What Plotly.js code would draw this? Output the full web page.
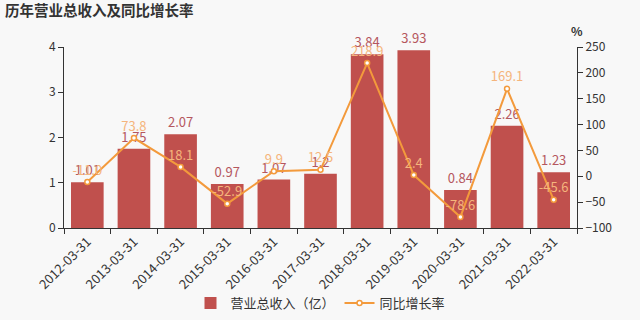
<!DOCTYPE html>
<html>
<head>
<meta charset="utf-8">
<script src="https://cdn.plot.ly/plotly-3.0.1.min.js"></script>
<style>html,body{margin:0;padding:0;background:#f8f8f8;}#chart{width:640px;height:320px;}</style>
</head>
<body>
<div id="chart"></div>
<script>
const categories = ["2012-03-31","2013-03-31","2014-03-31","2015-03-31","2016-03-31","2017-03-31","2018-03-31","2019-03-31","2020-03-31","2021-03-31","2022-03-31"];
const revenue = [1.01, 1.75, 2.07, 0.97, 1.07, 1.2, 3.84, 3.93, 0.84, 2.26, 1.23];
const revenueLabels = ["1.01","1.75","2.07","0.97","1.07","1.2","3.84","3.93","0.84","2.26","1.23"];
const growth = [-11.0, 73.8, 18.1, -52.9, 9.9, 12.5, 218.9, 2.4, -78.6, 169.1, -45.6];
const leftTicks = [0, 1, 2, 3, 4];
const rightTicks = [-100, -50, 0, 50, 100, 150, 200, 250];

const font = "'Noto Sans CJK SC', 'Noto Sans', sans-serif";
const traces = [
  {
    type: 'bar', name: '营业总收入（亿）', x: categories, y: revenue,
    marker: {color: '#c0504d'}, text: revenueLabels, texttemplate: '%{text}',
    textposition: 'outside', textfont: {color: '#b5575e', size: 13, family: font},
    cliponaxis: false, hoverinfo: 'none'
  },
  {
    type: 'scatter', mode: 'lines+markers+text', name: '同比增长率', x: categories, y: growth,
    yaxis: 'y2', line: {color: '#f39a3c', width: 2},
    marker: {size: 5, color: '#ffffff', line: {color: '#f39a3c', width: 1.5}},
    text: growth.map(v => v.toFixed(1)), textposition: 'top center',
    textfont: {color: '#f5b57c', size: 13, family: font}, cliponaxis: false, hoverinfo: 'none'
  }
];
const layout = {
  width: 640, height: 320,
  paper_bgcolor: '#f8f8f8', plot_bgcolor: '#f8f8f8',
  margin: {l: 64, r: 63, t: 47, b: 92},
  font: {family: font, color: '#333', size: 12},
  title: {text: '<b>历年营业总收入及同比增长率</b>', x: 0.008, xanchor: 'left', y: 0.965, yanchor: 'middle',
          font: {size: 14.5, color: '#333', family: font}},
  bargap: 0.3,
  showlegend: true,
  legend: {orientation: 'h', x: 0.5, xanchor: 'center', yref: 'container', y: 0.053, yanchor: 'middle',
           font: {size: 13, color: '#333'}, bgcolor: 'rgba(0,0,0,0)'},
  xaxis: {type: 'category', range: [-0.5, categories.length - 0.5], tickangle: -45, showline: true, linecolor: '#333', linewidth: 1,
          ticks: 'outside', ticklen: 5, tickcolor: '#333', showgrid: false, zeroline: false,
          tickfont: {size: 13, color: '#333'}, tickson: 'boundaries', automargin: false},
  yaxis: {range: [0, 4], tickvals: leftTicks, showline: true, linecolor: '#333', ticks: 'outside', ticklen: 5,
          tickcolor: '#333', showgrid: false, zeroline: false, tickfont: {size: 12, color: '#333'}, automargin: false},
  yaxis2: {range: [-100, 250], tickvals: rightTicks, overlaying: 'y', side: 'right', showline: true,
           linecolor: '#333', ticks: 'outside', ticklen: 5, tickcolor: '#333', showgrid: false, zeroline: false,
           tickfont: {size: 12, color: '#333'}, automargin: false},
  annotations: [{text: '<b>%</b>', xref: 'paper', yref: 'paper', x: 1, y: 1, yshift: 17, xanchor: 'center',
                 yanchor: 'middle', showarrow: false, font: {size: 12, color: '#333'}}]
};
Plotly.newPlot('chart', traces, layout, {displayModeBar: false, staticPlot: true});
</script>
</body>
</html>
